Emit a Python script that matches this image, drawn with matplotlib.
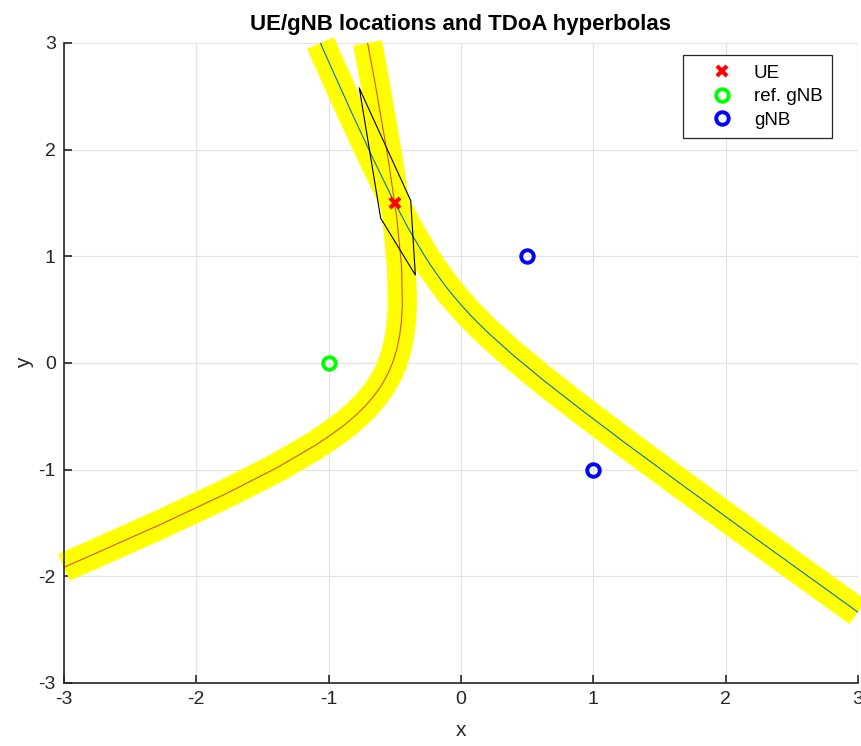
import numpy as np
import matplotlib
matplotlib.use("Agg")
import matplotlib.pyplot as plt

plt.rcParams['font.family'] = ['Liberation Sans', 'DejaVu Sans']
plt.rcParams['axes.unicode_minus'] = False

# positions
ue = (-0.5, 1.5)
ref_gnb = (-1.0, 0.0)
gnb_x = [0.5, 1.0]
gnb_y = [1.0, -1.0]

# TDoA hyperbola ref/gNB1 (blue)
hyp1_x = [-1.062, -1.028, -0.826, -0.660, -0.521, -0.398, -0.285, -0.229, -0.173,
          -0.117, -0.057, 0.005, 0.071, 0.142, 0.219, 0.397, 0.615, 0.888, 1.232,
          1.670, 2.227, 3.000]
hyp1_y = [3.000, 2.903, 2.346, 1.904, 1.550, 1.262, 1.023, 0.916, 0.816,
          0.720, 0.628, 0.539, 0.449, 0.359, 0.267, 0.070, -0.154, -0.419, -0.742,
          -1.142, -1.646, -2.337]

# TDoA hyperbola ref/gNB2 (red)
hyp2_x = [-0.706, -0.649, -0.550, -0.484, -0.449, -0.443, -0.450, -0.464, -0.485,
          -0.514, -0.551, -0.597, -0.652, -0.717, -0.793, -0.882, -0.985, -1.103,
          -1.392, -1.770, -2.258, -2.888, -3.000]
hyp2_y = [3.000, 2.623, 1.911, 1.349, 0.903, 0.546, 0.393, 0.255, 0.128,
          0.010, -0.099, -0.202, -0.300, -0.395, -0.488, -0.582, -0.676, -0.774,
          -0.983, -1.222, -1.507, -1.855, -1.915]

# uncertainty region around the UE
quad_x = [-0.768, -0.380, -0.345, -0.607, -0.768]
quad_y = [2.575, 1.522, 0.825, 1.357, 2.575]

fig = plt.figure(figsize=(8.62, 7.46), dpi=100)
ax = fig.add_axes([0.0742, 0.0845, 0.9212, 0.8579])

band = dict(color=(1, 1, 0), lw=21, solid_capstyle='butt', clip_on=False, zorder=1)
ax.plot(hyp2_x, hyp2_y, **band)
ax.plot(hyp1_x, hyp1_y, **band)
ax.plot(hyp1_x, hyp1_y, color='#0072BD', lw=0.8, zorder=2)
ax.plot(hyp2_x, hyp2_y, color='#D95319', lw=0.8, zorder=2)
ax.plot(quad_x, quad_y, color='k', lw=0.8, zorder=3)

ax.plot(ue[0], ue[1], 'x', color='r', ms=7, mew=3, label='UE', zorder=4)
ax.plot(ref_gnb[0], ref_gnb[1], 'o', mfc='none', mec=(0, 1, 0), ms=9, mew=2.8,
        label='ref. gNB', zorder=4)
ax.plot(gnb_x, gnb_y, 'o', mfc='none', mec=(0, 0, 1), ms=9, mew=2.8,
        label='gNB', zorder=4)

ax.set_xlim(-3, 3)
ax.set_ylim(-3, 3)
ax.set_xticks(np.arange(-3, 4))
ax.set_yticks(np.arange(-3, 4))
ax.grid(True, color='#e3e3e3', lw=0.9)
ax.set_axisbelow(True)
for s in ['top', 'right']:
    ax.spines[s].set_visible(False)
for s in ['left', 'bottom']:
    ax.spines[s].set_color('#262626')
    ax.spines[s].set_linewidth(1.2)
ax.tick_params(direction='in', length=6, width=1.2, color='#262626',
               labelsize=14, labelcolor='#262626', pad=6)

ax.set_xlabel('x', fontsize=15, color='#262626', labelpad=9)
ax.set_ylabel('y', fontsize=15, color='#262626', labelpad=3)
ax.set_title('UE/gNB locations and TDoA hyperbolas', fontsize=16,
             fontweight='bold', pad=9)

leg = ax.legend(loc='upper right', bbox_to_anchor=(832 / 862, 1 - 55 / 746),
                bbox_transform=fig.transFigure, borderaxespad=0, fancybox=False,
                framealpha=1, edgecolor='#262626', fontsize=13.5,
                handlelength=3.2, handletextpad=0.1, borderpad=0.5,
                labelspacing=0.35, numpoints=1)
leg.get_frame().set_linewidth(0.9)

plt.savefig('out.png', dpi=100)
